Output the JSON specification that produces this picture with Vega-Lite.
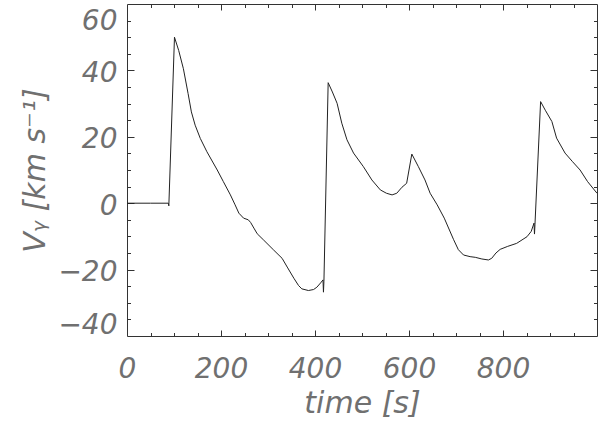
{
  "$schema": "https://vega.github.io/schema/vega-lite/v6.json",
  "width": 470,
  "height": 332,
  "autosize": {"type": "none"},
  "padding": {"left": 127, "top": 4, "right": 3, "bottom": 87},
  "data": {"values": [
    {"t": 0, "v": 0}, {"t": 50, "v": 0}, {"t": 88, "v": 0}, {"t": 89, "v": -0.8},
    {"t": 101, "v": 50}, {"t": 110, "v": 46}, {"t": 120, "v": 40.5}, {"t": 130, "v": 33},
    {"t": 137, "v": 27.5}, {"t": 145, "v": 23.5}, {"t": 156, "v": 19.5}, {"t": 170, "v": 15.5},
    {"t": 192, "v": 10}, {"t": 205, "v": 6.5}, {"t": 220, "v": 2.5}, {"t": 230, "v": -0.5},
    {"t": 238, "v": -3}, {"t": 248, "v": -4.5}, {"t": 258, "v": -5}, {"t": 263, "v": -5.8},
    {"t": 270, "v": -7.5}, {"t": 277, "v": -9.2}, {"t": 290, "v": -11}, {"t": 312, "v": -14.1},
    {"t": 330, "v": -16.6}, {"t": 342, "v": -19.5}, {"t": 355, "v": -22.6}, {"t": 365, "v": -24.8},
    {"t": 372, "v": -25.8}, {"t": 386, "v": -26.3}, {"t": 397, "v": -26}, {"t": 404, "v": -25.3},
    {"t": 412, "v": -24}, {"t": 417, "v": -23.1}, {"t": 418, "v": -26.8}, {"t": 419, "v": -23.5},
    {"t": 428, "v": 36.3}, {"t": 437, "v": 33.5}, {"t": 447, "v": 30.1}, {"t": 457, "v": 24.1},
    {"t": 468, "v": 19.1}, {"t": 482, "v": 15.1}, {"t": 503, "v": 11}, {"t": 521, "v": 7},
    {"t": 539, "v": 4}, {"t": 552, "v": 3}, {"t": 564, "v": 2.5}, {"t": 574, "v": 3},
    {"t": 585, "v": 4.8}, {"t": 595, "v": 6}, {"t": 606, "v": 14.8}, {"t": 620, "v": 11},
    {"t": 634, "v": 7}, {"t": 645, "v": 3}, {"t": 660, "v": -0.5}, {"t": 675, "v": -4.5},
    {"t": 695, "v": -11}, {"t": 705, "v": -14}, {"t": 716, "v": -15.6}, {"t": 730, "v": -16.1},
    {"t": 741, "v": -16.3}, {"t": 755, "v": -16.8}, {"t": 769, "v": -17.1}, {"t": 776, "v": -16.6},
    {"t": 785, "v": -15}, {"t": 794, "v": -13.9}, {"t": 810, "v": -13}, {"t": 829, "v": -12.1},
    {"t": 851, "v": -10.1}, {"t": 860, "v": -8.5}, {"t": 866, "v": -6}, {"t": 867, "v": -9.3},
    {"t": 868, "v": -6.5}, {"t": 880, "v": 30.6}, {"t": 890, "v": 28}, {"t": 904, "v": 24.6},
    {"t": 914, "v": 19.6}, {"t": 932, "v": 15.1}, {"t": 948, "v": 12.5}, {"t": 964, "v": 10},
    {"t": 980, "v": 6.5}, {"t": 1000, "v": 3}
  ]},
  "layer": [
    {
      "mark": {"type": "line", "color": "#222222", "strokeWidth": 1},
      "encoding": {
        "x": {
          "field": "t", "type": "quantitative",
          "scale": {"domain": [0, 1000], "nice": false, "zero": false},
          "axis": {
            "orient": "bottom",
            "title": "time [s]",
            "values": [0, 200, 400, 600, 800],
            "ticks": false,
            "labelFlush": false,
            "labelPadding": 19,
            "titlePadding": 5
          }
        },
        "y": {
          "field": "v", "type": "quantitative",
          "scale": {"domain": [-40, 60], "nice": false, "zero": false},
          "axis": {
            "orient": "left",
            "title": "Vᵧ [km s⁻¹]",
            "values": [-40, -20, 0, 20, 40, 60],
            "ticks": false,
            "labelPadding": 10,
            "labelOffset": 3,
            "labelFlush": true,
            "labelFlushOffset": 0,
            "titlePadding": 7
          }
        }
      }
    },
    {
      "mark": {"type": "line", "opacity": 0},
      "encoding": {
        "x": {
          "field": "t", "type": "quantitative",
          "axis": {
            "orient": "top", "title": null, "labels": false, "ticks": false,
            "values": [0, 1000]
          }
        },
        "y": {
          "field": "v", "type": "quantitative",
          "axis": {
            "orient": "right", "title": null, "labels": false, "ticks": false,
            "values": [-40, 60]
          }
        }
      }
    },
    {
      "mark": {"type": "line", "opacity": 0},
      "encoding": {
        "x": {
          "field": "t", "type": "quantitative",
          "axis": {
            "orient": "bottom", "title": null, "labels": false, "domain": false,
            "values": [200, 400, 600, 800],
            "tickSize": 6, "offset": -6
          }
        },
        "y": {
          "field": "v", "type": "quantitative",
          "axis": {
            "orient": "left", "title": null, "labels": false, "domain": false,
            "values": [-20, 0, 20, 40],
            "tickSize": 7, "offset": -7
          }
        }
      }
    },
    {
      "mark": {"type": "line", "opacity": 0},
      "encoding": {
        "x": {
          "field": "t", "type": "quantitative",
          "axis": {
            "orient": "top", "title": null, "labels": false, "domain": false,
            "values": [200, 400, 600, 800],
            "tickSize": 6, "offset": -6
          }
        },
        "y": {
          "field": "v", "type": "quantitative",
          "axis": {
            "orient": "right", "title": null, "labels": false, "domain": false,
            "values": [-20, 0, 20, 40],
            "tickSize": 7, "offset": -7
          }
        }
      }
    },
    {
      "mark": {"type": "line", "opacity": 0},
      "encoding": {
        "x": {
          "field": "t", "type": "quantitative",
          "axis": {
            "orient": "bottom", "title": null, "labels": false, "domain": false,
            "values": [50,100,150,250,300,350,450,500,550,650,700,750,850,900,950],
            "tickSize": 3.5, "offset": -3.5
          }
        },
        "y": {
          "field": "v", "type": "quantitative",
          "axis": {
            "orient": "left", "title": null, "labels": false, "domain": false,
            "values": [-35,-30,-25,-15,-10,-5,5,10,15,25,30,35,45,50,55],
            "tickSize": 3.5, "offset": -3.5
          }
        }
      }
    },
    {
      "mark": {"type": "line", "opacity": 0},
      "encoding": {
        "x": {
          "field": "t", "type": "quantitative",
          "axis": {
            "orient": "top", "title": null, "labels": false, "domain": false,
            "values": [50,100,150,250,300,350,450,500,550,650,700,750,850,900,950],
            "tickSize": 3.5, "offset": -3.5
          }
        },
        "y": {
          "field": "v", "type": "quantitative",
          "axis": {
            "orient": "right", "title": null, "labels": false, "domain": false,
            "values": [-35,-30,-25,-15,-10,-5,5,10,15,25,30,35,45,50,55],
            "tickSize": 3.5, "offset": -3.5
          }
        }
      }
    }
  ],
  "resolve": {"axis": {"x": "independent", "y": "independent"}},
  "config": {
    "view": {"stroke": null},
    "axis": {
      "grid": false,
      "domainColor": "#333333",
      "tickColor": "#333333",
      "domainWidth": 1,
      "tickWidth": 1,
      "labelFont": "DejaVu Sans",
      "labelFontStyle": "italic",
      "labelFontWeight": 200,
      "labelFontSize": 28,
      "labelColor": "#707070",
      "labelOverlap": false,
      "labelBound": false,
      "titleFont": "DejaVu Sans",
      "titleFontStyle": "italic",
      "titleFontWeight": 200,
      "titleFontSize": 30,
      "titleColor": "#707070"
    }
  }
}
